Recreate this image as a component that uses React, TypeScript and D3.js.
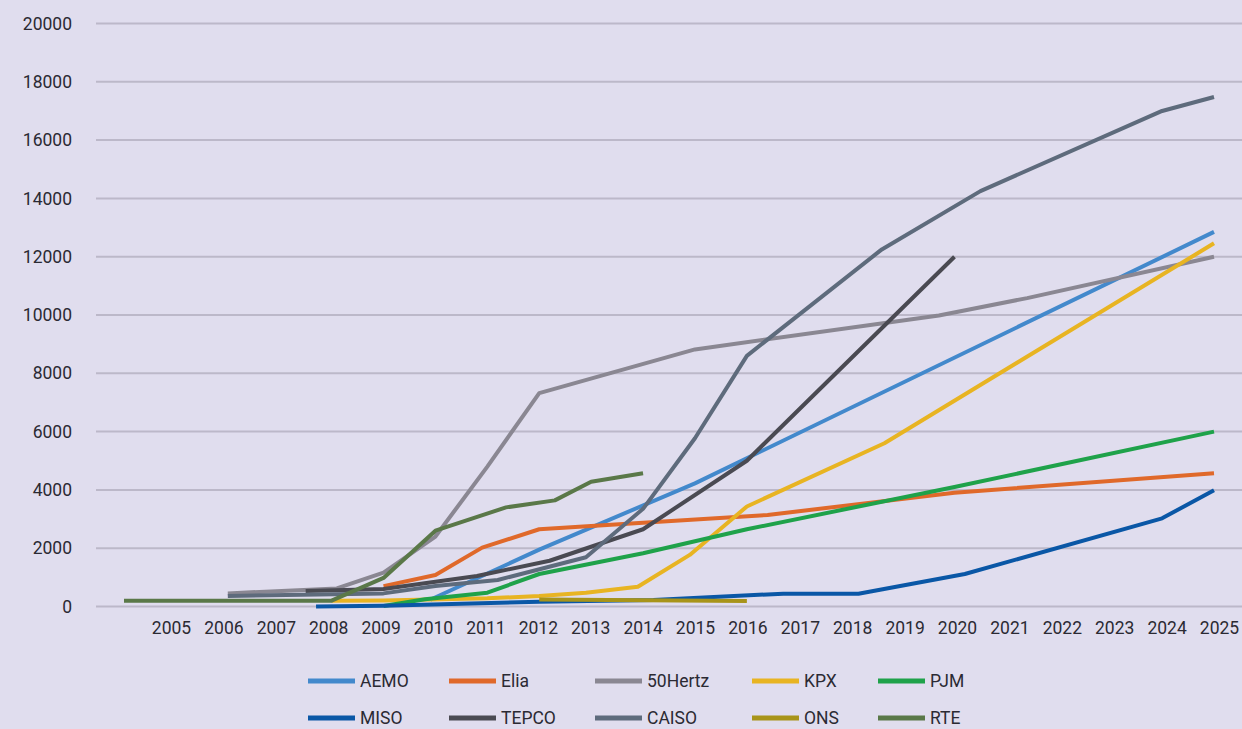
import React, { useRef, useEffect } from 'react';
import * as d3 from 'd3';

// series names in legend order (also draw order)
const seriesNames = ['AEMO', 'Elia', '50Hertz', 'KPX', 'PJM', 'MISO', 'TEPCO', 'CAISO', 'ONS', 'RTE'];

// [year, value] pairs
const AEMO: [number, number][] = [[2009.9, 230], [2012, 1950], [2015, 4225], [2025, 12850]];
const Elia: [number, number][] = [[2009, 700], [2010, 1080], [2010.9, 2020], [2012, 2650], [2014, 2875], [2016.4, 3140], [2020, 3905], [2025, 4570]];
const Hertz50: [number, number][] = [[2006, 450], [2008.1, 620], [2009, 1160], [2010, 2400], [2011, 4800], [2012, 7320], [2015, 8820], [2019.7, 9980], [2021.4, 10580], [2025, 12000]];
const KPX: [number, number][] = [[2008, 200], [2009, 210], [2011, 280], [2012, 360], [2012.9, 475], [2013.9, 680], [2014.9, 1770], [2016, 3430], [2018.65, 5600], [2025, 12460]];
const PJM: [number, number][] = [[2009, 20], [2009.8, 250], [2011, 475], [2012, 1115], [2014, 1825], [2016, 2650], [2020, 4100], [2025, 6000]];
const MISO: [number, number][] = [[2007.7, 0], [2009, 30], [2012, 160], [2014.2, 220], [2016.7, 440], [2018.15, 440], [2020.2, 1115], [2024, 3025], [2025, 3990]];
const TEPCO: [number, number][] = [[2007.5, 530], [2009, 600], [2010, 850], [2010.8, 1045], [2012.2, 1570], [2014, 2650], [2016, 5000], [2020, 12000]];
const CAISO: [number, number][] = [[2006, 360], [2009, 450], [2010, 700], [2011.2, 910], [2012.9, 1690], [2014, 3350], [2015, 5770], [2016, 8600], [2018.6, 12250], [2020.5, 14250], [2024, 17000], [2025, 17480]];
const ONS: [number, number][] = [[2012, 240], [2016, 190]];
const RTE: [number, number][] = [[2004, 200], [2008, 200], [2009, 980], [2010, 2600], [2011.36, 3400], [2012.3, 3640], [2013, 4280], [2014, 4570]];

const seriesData = [AEMO, Elia, Hertz50, KPX, PJM, MISO, TEPCO, CAISO, ONS, RTE];

const yearLabels = d3.range(2005, 2026);
const yTicks = d3.range(0, 20001, 2000);

const colors = ['#4389cc', '#e0692a', '#8a8792', '#e8b422', '#1fa24a', '#0a57a6', '#4a4a52', '#5e6b7c', '#a89419', '#5a7848'];

export default function App() {
  const ref = useRef<HTMLDivElement>(null);

  useEffect(() => {
    document.body.style.margin = '0';
    const width = 1242,
      height = 729;
    const font = 'Roboto, sans-serif';

    const root = d3.select(ref.current);
    root.selectAll('*').remove();
    const svg = root
      .append('svg')
      .attr('width', width)
      .attr('height', height)
      .style('display', 'block');

    svg.append('rect').attr('width', width).attr('height', height).attr('fill', '#e0ddee');

    const x = d3.scaleLinear().domain([2004, 2025]).range([124, 1214]);
    const y = d3.scaleLinear().domain([0, 20000]).range([606.5, 23.5]);
    // category labels sit on their own evenly spaced positions
    const xLab = d3.scalePoint<number>().domain(yearLabels).range([171, 1219]);

    // grid
    svg
      .append('g')
      .selectAll('line')
      .data(yTicks)
      .enter()
      .append('line')
      .attr('x1', 96)
      .attr('x2', width)
      .attr('y1', d => y(d))
      .attr('y2', d => y(d))
      .attr('stroke', '#bcb8c9')
      .attr('stroke-width', 2);

    // y axis
    const yAxis = svg
      .append('g')
      .attr('transform', 'translate(72,0)')
      .call(d3.axisLeft(y).tickValues(yTicks).tickSize(0).tickPadding(0).tickFormat(d3.format('d')));
    yAxis.select('.domain').remove();
    yAxis
      .selectAll('text')
      .attr('font-family', font)
      .attr('font-size', '17.5px')
      .attr('fill', '#2b2a33');

    // x axis
    const xAxis = svg
      .append('g')
      .attr('transform', 'translate(0,622)')
      .call(d3.axisBottom(xLab).tickSize(0).tickPadding(0).tickFormat(d3.format('d')));
    xAxis.select('.domain').remove();
    xAxis
      .selectAll('text')
      .attr('font-family', font)
      .attr('font-size', '17.5px')
      .attr('fill', '#2b2a33');

    // lines
    const line = d3
      .line<[number, number]>()
      .x(d => x(d[0]))
      .y(d => y(d[1]));

    svg
      .append('g')
      .selectAll('path')
      .data(seriesData)
      .enter()
      .append('path')
      .attr('d', d => line(d))
      .attr('fill', 'none')
      .attr('stroke', (d, i) => colors[i])
      .attr('stroke-width', 4)
      .attr('stroke-linejoin', 'round');

    // legend
    const colX = [308, 449, 595, 752, 878];
    const rowY = [681, 718];
    const legend = svg
      .append('g')
      .selectAll('g')
      .data(seriesNames)
      .enter()
      .append('g')
      .attr('transform', (d, i) => 'translate(' + colX[i % 5] + ',' + rowY[Math.floor(i / 5)] + ')');
    legend
      .append('line')
      .attr('x1', 0)
      .attr('x2', 47)
      .attr('stroke', (d, i) => colors[i])
      .attr('stroke-width', 5);
    legend
      .append('text')
      .attr('x', 52)
      .attr('dy', '0.35em')
      .attr('font-family', font)
      .attr('font-size', '17.5px')
      .attr('fill', '#2b2a33')
      .text(d => d);
  }, []);

  return <div ref={ref}></div>;
}
